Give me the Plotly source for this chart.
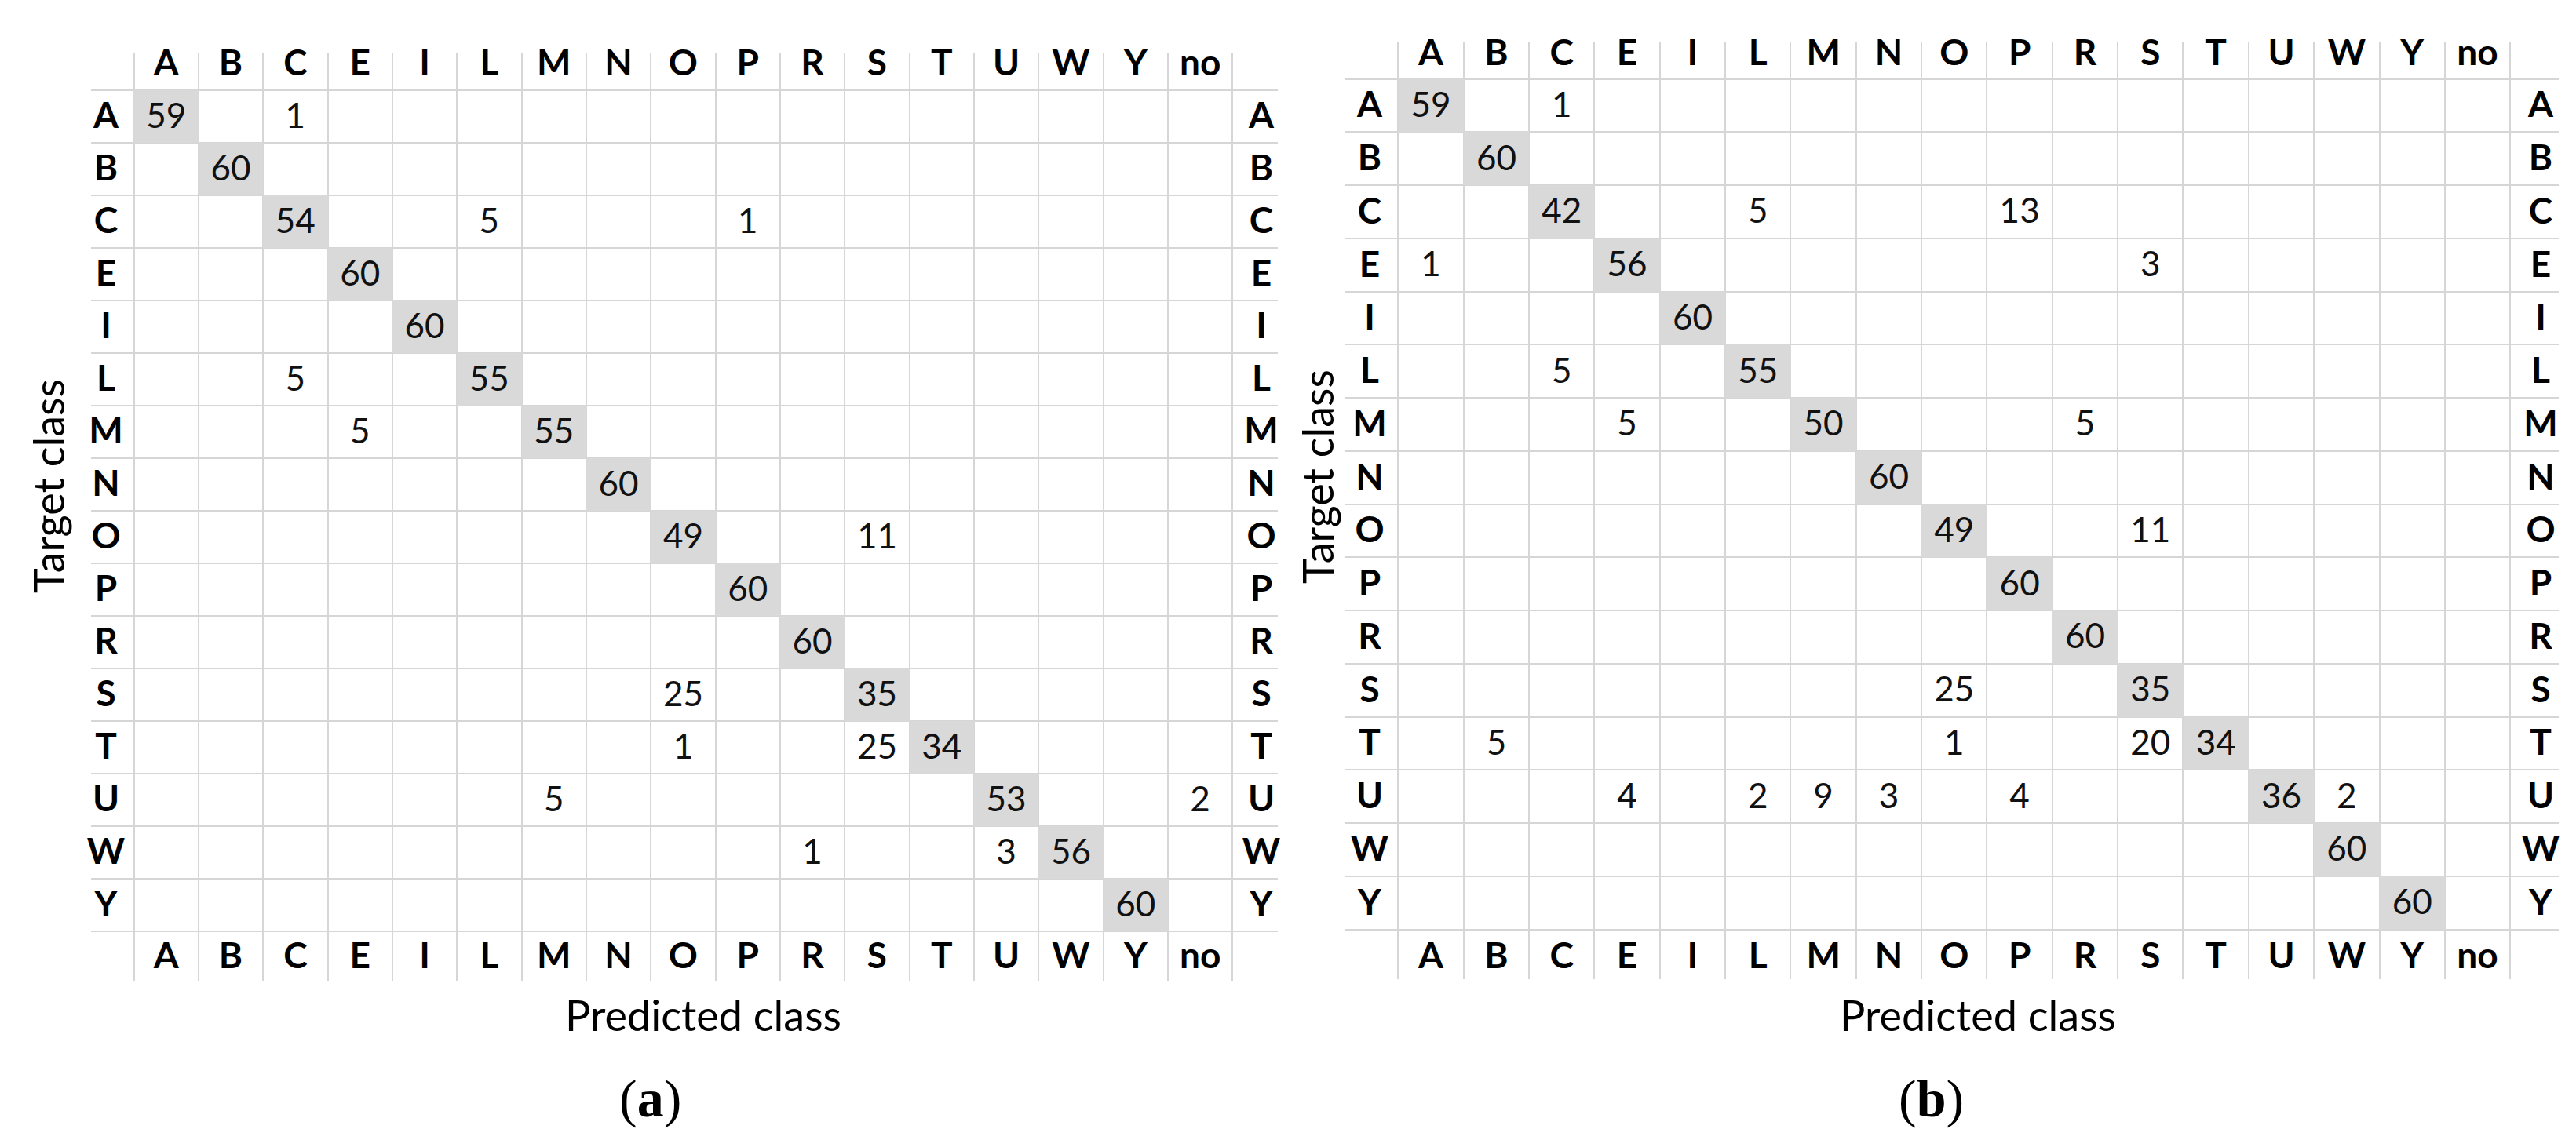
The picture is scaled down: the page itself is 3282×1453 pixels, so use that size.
import plotly.graph_objects as go

# ---------------- data ----------------
pred_classes = ["A", "B", "C", "E", "I", "L", "M", "N", "O", "P", "R", "S", "T", "U", "W", "Y", "no"]
target_classes = ["A", "B", "C", "E", "I", "L", "M", "N", "O", "P", "R", "S", "T", "U", "W", "Y"]

# rows = target class, columns = predicted class
conf_a = [
    # A  B  C  E  I  L  M  N  O  P  R  S  T  U  W  Y  no
    [59, 0, 1, 0, 0, 0, 0, 0, 0, 0, 0, 0, 0, 0, 0, 0, 0],   # A
    [0, 60, 0, 0, 0, 0, 0, 0, 0, 0, 0, 0, 0, 0, 0, 0, 0],   # B
    [0, 0, 54, 0, 0, 5, 0, 0, 0, 1, 0, 0, 0, 0, 0, 0, 0],   # C
    [0, 0, 0, 60, 0, 0, 0, 0, 0, 0, 0, 0, 0, 0, 0, 0, 0],   # E
    [0, 0, 0, 0, 60, 0, 0, 0, 0, 0, 0, 0, 0, 0, 0, 0, 0],   # I
    [0, 0, 5, 0, 0, 55, 0, 0, 0, 0, 0, 0, 0, 0, 0, 0, 0],   # L
    [0, 0, 0, 5, 0, 0, 55, 0, 0, 0, 0, 0, 0, 0, 0, 0, 0],   # M
    [0, 0, 0, 0, 0, 0, 0, 60, 0, 0, 0, 0, 0, 0, 0, 0, 0],   # N
    [0, 0, 0, 0, 0, 0, 0, 0, 49, 0, 0, 11, 0, 0, 0, 0, 0],  # O
    [0, 0, 0, 0, 0, 0, 0, 0, 0, 60, 0, 0, 0, 0, 0, 0, 0],   # P
    [0, 0, 0, 0, 0, 0, 0, 0, 0, 0, 60, 0, 0, 0, 0, 0, 0],   # R
    [0, 0, 0, 0, 0, 0, 0, 0, 25, 0, 0, 35, 0, 0, 0, 0, 0],  # S
    [0, 0, 0, 0, 0, 0, 0, 0, 1, 0, 0, 25, 34, 0, 0, 0, 0],  # T
    [0, 0, 0, 0, 0, 0, 5, 0, 0, 0, 0, 0, 0, 53, 0, 0, 2],   # U
    [0, 0, 0, 0, 0, 0, 0, 0, 0, 0, 1, 0, 0, 3, 56, 0, 0],   # W
    [0, 0, 0, 0, 0, 0, 0, 0, 0, 0, 0, 0, 0, 0, 0, 60, 0],   # Y
]

conf_b = [
    # A  B  C  E  I  L  M  N  O  P  R  S  T  U  W  Y  no
    [59, 0, 1, 0, 0, 0, 0, 0, 0, 0, 0, 0, 0, 0, 0, 0, 0],   # A
    [0, 60, 0, 0, 0, 0, 0, 0, 0, 0, 0, 0, 0, 0, 0, 0, 0],   # B
    [0, 0, 42, 0, 0, 5, 0, 0, 0, 13, 0, 0, 0, 0, 0, 0, 0],  # C
    [1, 0, 0, 56, 0, 0, 0, 0, 0, 0, 0, 3, 0, 0, 0, 0, 0],   # E
    [0, 0, 0, 0, 60, 0, 0, 0, 0, 0, 0, 0, 0, 0, 0, 0, 0],   # I
    [0, 0, 5, 0, 0, 55, 0, 0, 0, 0, 0, 0, 0, 0, 0, 0, 0],   # L
    [0, 0, 0, 5, 0, 0, 50, 0, 0, 0, 5, 0, 0, 0, 0, 0, 0],   # M
    [0, 0, 0, 0, 0, 0, 0, 60, 0, 0, 0, 0, 0, 0, 0, 0, 0],   # N
    [0, 0, 0, 0, 0, 0, 0, 0, 49, 0, 0, 11, 0, 0, 0, 0, 0],  # O
    [0, 0, 0, 0, 0, 0, 0, 0, 0, 60, 0, 0, 0, 0, 0, 0, 0],   # P
    [0, 0, 0, 0, 0, 0, 0, 0, 0, 0, 60, 0, 0, 0, 0, 0, 0],   # R
    [0, 0, 0, 0, 0, 0, 0, 0, 25, 0, 0, 35, 0, 0, 0, 0, 0],  # S
    [0, 5, 0, 0, 0, 0, 0, 0, 1, 0, 0, 20, 34, 0, 0, 0, 0],  # T
    [0, 0, 0, 4, 0, 2, 9, 3, 0, 4, 0, 0, 0, 36, 2, 0, 0],   # U
    [0, 0, 0, 0, 0, 0, 0, 0, 0, 0, 0, 0, 0, 0, 60, 0, 0],   # W
    [0, 0, 0, 0, 0, 0, 0, 0, 0, 0, 0, 0, 0, 0, 0, 60, 0],   # Y
]

panel_letters = ["a", "b"]

# ---------------- layout geometry (pixels) ----------------
W, H = 3282, 1453
FONT = "Lato, 'Open Sans', Arial, sans-serif"
SERIF = "'Liberation Serif', 'DejaVu Serif', serif"
GRID = "#d6d6d6"
DIAG = "#d9d9d9"

# left, data_left, data_right, right, top, head_bottom, data_bottom, bottom
panels = [
    dict(left=108, dl=162.5, dr=1562.3, right=1620, top=59, hb=106.7, db=1178.7, bottom=1242,
         lx=127, rx=1599, title_x=888, ttl_y=612, target_x=53, letter_x=821, head_y=76),
    dict(left=1706, dl=1773.4, dr=3190.2, right=3252, top=45, hb=92.5, db=1176.5, bottom=1240,
         lx=1737, rx=3229, title_x=2512, ttl_y=600, target_x=1670, letter_x=2452, head_y=63),
]

n_cols = len(pred_classes)
n_rows = len(target_classes)

fig = go.Figure()
annotations = []

for k, (conf, p) in enumerate(zip([conf_a, conf_b], panels)):
    sfx = "" if k == 0 else str(k + 1)
    xa, ya = "x" + sfx, "y" + sfx
    cw = (p["dr"] - p["dl"]) / n_cols
    rh = (p["db"] - p["hb"]) / n_rows

    def px2x(px):
        return (px - p["dl"]) / cw - 0.5

    def py2y(py):
        return (py - p["hb"]) / rh - 0.5

    # diagonal shading
    z = [[1 if (i == j) else None for j in range(n_cols)] for i in range(n_rows)]
    fig.add_trace(go.Heatmap(
        x=list(range(n_cols)), y=list(range(n_rows)), z=z,
        colorscale=[[0, DIAG], [1, DIAG]], showscale=False, hoverinfo="skip",
        xaxis=xa, yaxis=ya,
    ))

    # counts
    xs, ys, ts = [], [], []
    for i, row in enumerate(conf):
        for j, v in enumerate(row):
            if v:
                xs.append(j)
                ys.append(i + 0.05)
                ts.append(str(v))
    fig.add_trace(go.Scatter(
        x=xs, y=ys, text=ts, mode="text", textposition="middle center",
        textfont=dict(family=FONT, size=44, color="#111111"), cliponaxis=False,
        hoverinfo="skip", showlegend=False, xaxis=xa, yaxis=ya,
    ))

    # column headers (top and bottom)
    top_y = py2y(p["head_y"])
    bot_y = py2y(1214)
    for yy in (top_y, bot_y):
        fig.add_trace(go.Scatter(
            x=list(range(n_cols)), y=[yy] * n_cols,
            text=["<b>%s</b>" % c for c in pred_classes], mode="text",
            textposition="middle center", cliponaxis=False,
            textfont=dict(family=FONT, size=46, color="#000000"),
            hoverinfo="skip", showlegend=False, xaxis=xa, yaxis=ya,
        ))

    # row labels (left and right)
    for xx in (px2x(p["lx"]), px2x(p["rx"])):
        fig.add_trace(go.Scatter(
            x=[xx] * n_rows, y=[i + 0.05 for i in range(n_rows)],
            text=["<b>%s</b>" % c for c in target_classes], mode="text",
            textposition="middle center", cliponaxis=False,
            textfont=dict(family=FONT, size=46, color="#000000"),
            hoverinfo="skip", showlegend=False, xaxis=xa, yaxis=ya,
        ))

    xr = [px2x(p["left"]), px2x(p["right"])]
    yr = [py2y(p["bottom"]), py2y(p["top"])]
    axis_common = dict(showticklabels=False, ticks="", zeroline=False, showline=False,
                       showgrid=True, gridcolor=GRID, gridwidth=1.5, fixedrange=True)
    fig.layout["xaxis" + sfx] = dict(
        domain=[p["left"] / W, p["right"] / W], range=xr, anchor=ya,
        tickmode="array", tickvals=[j - 0.5 for j in range(n_cols + 1)], **axis_common)
    fig.layout["yaxis" + sfx] = dict(
        domain=[1 - p["bottom"] / H, 1 - p["top"] / H], range=yr, anchor=xa,
        tickmode="array", tickvals=[i - 0.5 for i in range(n_rows + 1)], **axis_common)

    # axis titles
    annotations.append(dict(
        text="Predicted class", x=p["title_x"] / W, y=1 - 1285 / H, xref="paper", yref="paper",
        showarrow=False, xanchor="center", yanchor="middle",
        font=dict(family=FONT, size=54, color="#000000")))
    annotations.append(dict(
        text="Target class", x=p["target_x"] / W, y=1 - p["ttl_y"] / H, xref="paper", yref="paper",
        showarrow=False, xanchor="center", yanchor="middle", textangle=-90,
        font=dict(family=FONT, size=54, color="#000000")))
    annotations.append(dict(
        text="(<b>%s</b>)" % panel_letters[k], x=p["letter_x"] / W, y=1 - 1392 / H,
        xref="paper", yref="paper", showarrow=False, xanchor="center", yanchor="middle",
        font=dict(family=SERIF, size=68, color="#000000")))

fig.update_layout(
    width=W, height=H, margin=dict(l=0, r=0, t=0, b=0),
    paper_bgcolor="white", plot_bgcolor="white",
    showlegend=False, annotations=annotations,
)

fig.write_html("out.html")
